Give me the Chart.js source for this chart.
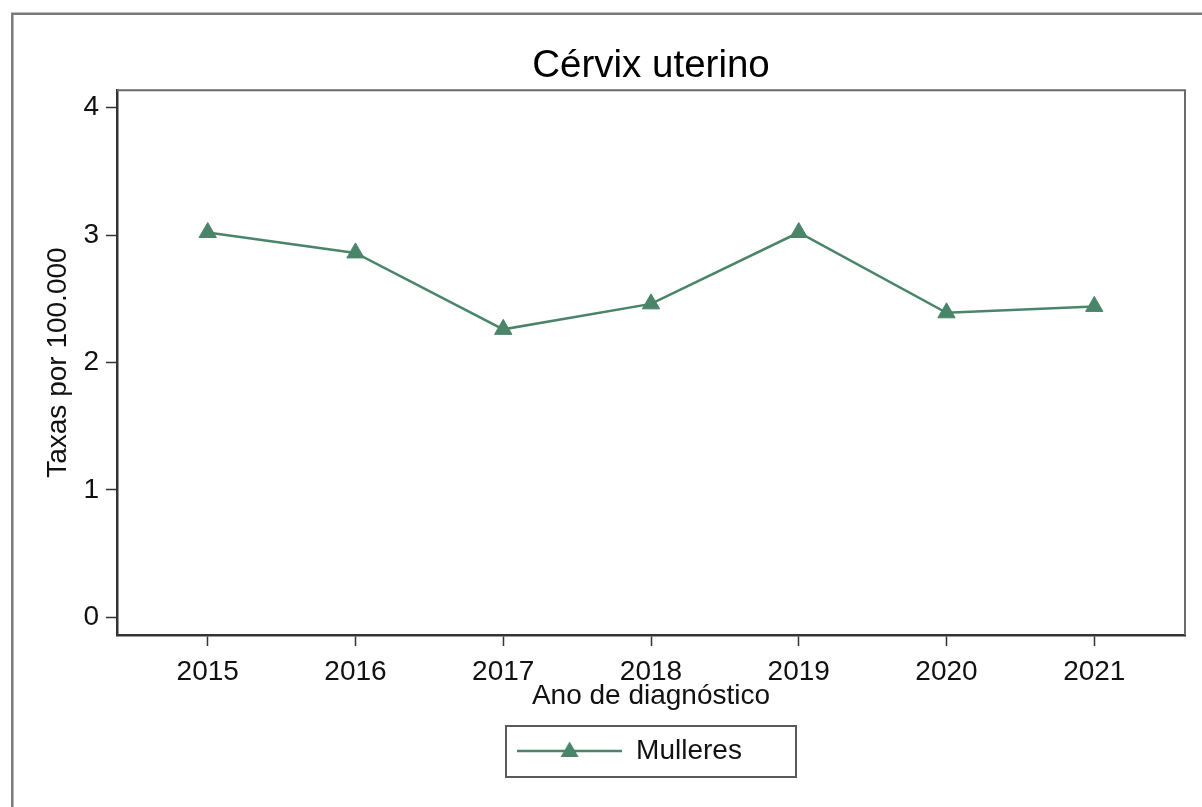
<!DOCTYPE html>
<html>
<head>
<meta charset="utf-8">
<title>Cérvix uterino</title>
<script src="https://cdn.jsdelivr.net/npm/chart.js@4/dist/chart.umd.min.js"></script>
<style>
  html, body { margin: 0; padding: 0; background: #fff; }
  #wrap { position: relative; width: 1202px; height: 807px; }
</style>
</head>
<body>
<div id="wrap"><canvas id="grafico"></canvas></div>
<script>
var anos = [2015, 2016, 2017, 2018, 2019, 2020, 2021];
var taxas = [3.02, 2.86, 2.26, 2.46, 3.02, 2.39, 2.44];
var yTicks = [0, 1, 2, 3, 4];
var verde = '#4a8569';
var tinta = '#111';

Chart.defaults.font.family = '"Liberation Sans", Arial, sans-serif';
Chart.defaults.color = tinta;

// legend symbol: short line with a triangle in the middle
function simboloLenda(){
    var c = document.createElement('canvas');
    c.width = 105; c.height = 22;
    var g = c.getContext('2d');
    g.strokeStyle = verde;
    g.lineWidth = 2.5;
    g.beginPath(); g.moveTo(0, 11); g.lineTo(105, 11); g.stroke();
    g.fillStyle = verde;
    g.beginPath(); g.moveTo(52.5, 1.5); g.lineTo(61.5, 17); g.lineTo(43.5, 17); g.closePath(); g.fill();
    return c;
}

// grey outer frame, plot box top/right edges and the box round the legend
var marcos = {
    id: 'marcos',
    afterLayout: function(chart){
        chart.legend.left += 37;
        chart.legend.right += 37;
    },
    beforeDraw: function(chart){
        var ctx = chart.ctx;
        ctx.save();
        ctx.strokeStyle = '#7a7a7a';
        ctx.lineWidth = 2.5;
        ctx.beginPath();
        ctx.moveTo(12.3, 900); ctx.lineTo(12.3, 13.8); ctx.lineTo(1300, 13.8);
        ctx.stroke();
        ctx.restore();
    },
    afterDraw: function(chart){
        var ctx = chart.ctx, a = chart.chartArea, lg = chart.legend;
        ctx.save();
        ctx.strokeStyle = '#6a6a6a';
        ctx.lineWidth = 2;
        ctx.beginPath();
        ctx.moveTo(a.left, a.top); ctx.lineTo(a.right, a.top); ctx.lineTo(a.right, a.bottom);
        ctx.stroke();
        var cx = (a.left + a.right) / 2;
        ctx.strokeStyle = '#5a5a5a';
        ctx.strokeRect(cx - 145, lg.top - 1, 290, lg.bottom - lg.top + 3);
        ctx.restore();
    }
};

var ctx = document.getElementById('grafico').getContext('2d');
var grafico = new Chart(ctx, {
    type: 'line',
    data: {
        datasets: [{
            label: 'Mulleres',
            data: anos.map(function(a, i){ return {x: a, y: taxas[i]}; }),
            borderColor: verde,
            backgroundColor: verde,
            borderWidth: 2.5,
            pointStyle: 'triangle',
            pointRadius: 10,
            pointBorderWidth: 1,
            pointBackgroundColor: verde,
            pointBorderColor: verde,
            tension: 0
        }]
    },
    options: {
        responsive: true,
        maintainAspectRatio: false,
        animation: false,
        layout: { padding: { top: 0, left: 0, right: 17, bottom: 32 } },
        plugins: {
            tooltip: { enabled: false },
            title: {
                display: true,
                text: 'Cérvix uterino',
                fullSize: false,
                color: '#000',
                font: { size: 38.5, weight: 'normal' },
                padding: { top: 43, bottom: 1 }
            },
            legend: {
                position: 'bottom',
                labels: {
                    usePointStyle: true,
                    pointStyle: simboloLenda(),
                    pointStyleWidth: 105,
                    color: tinta,
                    font: { size: 28 },
                    padding: 10
                }
            }
        },
        scales: {
            x: {
                type: 'linear',
                min: 2014.386,
                max: 2021.614,
                afterBuildTicks: function(s){ s.ticks = anos.map(function(v){ return {value: v}; }); },
                afterFit: function(s){ s.height = 92; },
                border: { display: true, color: '#333', width: 2.5 },
                grid: { drawOnChartArea: false, tickLength: 11, color: '#333', tickWidth: 1.5 },
                ticks: {
                    autoSkip: false, maxRotation: 0, padding: 9,
                    font: { size: 28 }, color: tinta,
                    callback: function(v){ return String(v); }
                },
                title: {
                    display: true, text: 'Ano de diagnóstico',
                    font: { size: 28 }, color: tinta,
                    padding: { top: 0, bottom: 14 }
                }
            },
            y: {
                min: -0.139,
                max: 4.137,
                afterBuildTicks: function(s){ s.ticks = yTicks.map(function(v){ return {value: v}; }); },
                afterFit: function(s){ s.width = 117; },
                border: { display: true, color: '#333', width: 2.5 },
                grid: { drawOnChartArea: false, tickLength: 11, color: '#333', tickWidth: 1.5 },
                ticks: {
                    padding: 7,
                    font: { size: 28 }, color: tinta,
                    callback: function(v){ return String(v); }
                },
                title: {
                    display: true, text: 'Taxas por 100.000',
                    font: { size: 28 }, color: tinta,
                    padding: { top: 41, bottom: 0 }
                }
            }
        }
    },
    plugins: [marcos]
});
</script>
</body>
</html>
